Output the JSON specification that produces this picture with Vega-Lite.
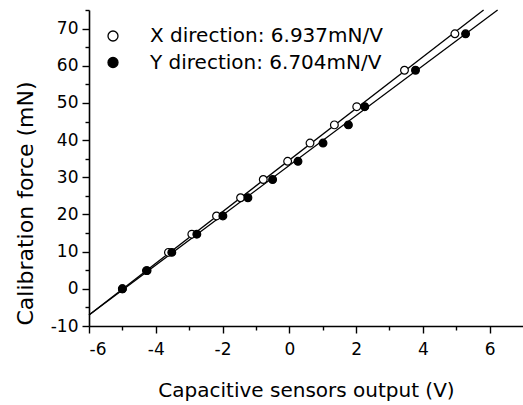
{
  "$schema": "https://vega.github.io/schema/vega-lite/v6.json",
  "width": 434,
  "height": 316,
  "autosize": {"type": "none"},
  "padding": {"left": 89, "top": 10, "right": 0, "bottom": 79},
  "background": "white",
  "config": {
    "view": {"stroke": null},
    "font": "DejaVu Sans",
    "axis": {
      "domainColor": "black",
      "domainWidth": 1.6,
      "tickColor": "black",
      "tickWidth": 1.4,
      "labelColor": "black",
      "titleColor": "black",
      "labelFont": "DejaVu Sans",
      "titleFont": "DejaVu Sans",
      "labelFontSize": 17,
      "titleFontSize": 20,
      "titleFontWeight": "normal",
      "grid": false
    }
  },
  "datasets": {
    "points": [
      {"series": "X direction: 6.937mN/V", "v": -5.0, "f": 0.0},
      {"series": "X direction: 6.937mN/V", "v": -4.28, "f": 4.9},
      {"series": "X direction: 6.937mN/V", "v": -3.62, "f": 9.8},
      {"series": "X direction: 6.937mN/V", "v": -2.92, "f": 14.7},
      {"series": "X direction: 6.937mN/V", "v": -2.18, "f": 19.6},
      {"series": "X direction: 6.937mN/V", "v": -1.46, "f": 24.5},
      {"series": "X direction: 6.937mN/V", "v": -0.78, "f": 29.4},
      {"series": "X direction: 6.937mN/V", "v": -0.05, "f": 34.3},
      {"series": "X direction: 6.937mN/V", "v": 0.62, "f": 39.2},
      {"series": "X direction: 6.937mN/V", "v": 1.35, "f": 44.1},
      {"series": "X direction: 6.937mN/V", "v": 2.02, "f": 49.0},
      {"series": "X direction: 6.937mN/V", "v": 3.45, "f": 58.8},
      {"series": "X direction: 6.937mN/V", "v": 4.96, "f": 68.6},
      {"series": "Y direction: 6.704mN/V", "v": -5.0, "f": 0.0},
      {"series": "Y direction: 6.704mN/V", "v": -4.26, "f": 4.9},
      {"series": "Y direction: 6.704mN/V", "v": -3.52, "f": 9.8},
      {"series": "Y direction: 6.704mN/V", "v": -2.77, "f": 14.7},
      {"series": "Y direction: 6.704mN/V", "v": -1.99, "f": 19.6},
      {"series": "Y direction: 6.704mN/V", "v": -1.24, "f": 24.5},
      {"series": "Y direction: 6.704mN/V", "v": -0.5, "f": 29.4},
      {"series": "Y direction: 6.704mN/V", "v": 0.26, "f": 34.3},
      {"series": "Y direction: 6.704mN/V", "v": 1.01, "f": 39.2},
      {"series": "Y direction: 6.704mN/V", "v": 1.77, "f": 44.1},
      {"series": "Y direction: 6.704mN/V", "v": 2.26, "f": 49.0},
      {"series": "Y direction: 6.704mN/V", "v": 3.78, "f": 58.8},
      {"series": "Y direction: 6.704mN/V", "v": 5.28, "f": 68.6}
    ],
    "fits": [
      {"series": "X direction: 6.937mN/V", "v": -6.0, "f": -7.02},
      {"series": "X direction: 6.937mN/V", "v": 5.82, "f": 75.0},
      {"series": "Y direction: 6.704mN/V", "v": -6.0, "f": -7.02},
      {"series": "Y direction: 6.704mN/V", "v": 6.24, "f": 75.0}
    ]
  },
  "encoding": {
    "x": {
      "field": "v",
      "type": "quantitative",
      "scale": {"domain": [-6, 7], "nice": false, "zero": false},
      "axis": {
        "title": "Capacitive sensors output (V)",
        "values": [-6, -5, -4, -3, -2, -1, 0, 1, 2, 3, 4, 5, 6],
        "labelExpr": "datum.value % 2 == 0 ? '' + datum.value : ''",
        "tickSize": {"condition": {"test": "datum.value % 2 == 0", "value": 7}, "value": 4},
        "labelPadding": 8,
        "titleBaseline": "alphabetic",
        "titleY": 70
      }
    },
    "y": {
      "field": "f",
      "type": "quantitative",
      "scale": {"domain": [-10, 75], "nice": false, "zero": false},
      "axis": {
        "title": "Calibration force (mN)",
        "titleFontSize": 22,
        "values": [-10, -5, 0, 5, 10, 15, 20, 25, 30, 35, 40, 45, 50, 55, 60, 65, 70, 75],
        "labelExpr": "datum.value % 10 == 0 ? '' + datum.value : ''",
        "tickSize": {"condition": {"test": "datum.value % 10 == 0", "value": 7}, "value": 4},
        "labelPadding": 4,
        "titleX": -52,
        "titleY": 193,
        "titleBaseline": "bottom"
      }
    }
  },
  "layer": [
    {
      "data": {"name": "fits"},
      "mark": {"type": "line", "color": "black", "strokeWidth": 1.3},
      "encoding": {"detail": {"field": "series"}}
    },
    {
      "data": {"name": "points"},
      "mark": {"type": "point", "shape": "circle", "filled": true, "size": 60, "stroke": "black", "strokeWidth": 1.2, "opacity": 1},
      "encoding": {
        "fill": {
          "field": "series",
          "type": "nominal",
          "scale": {"domain": ["X direction: 6.937mN/V", "Y direction: 6.704mN/V"], "range": ["white", "black"]},
          "legend": {
            "title": null,
            "orient": "none",
            "legendX": 14,
            "legendY": 16,
            "padding": 0,
            "symbolType": "circle",
            "symbolSize": 100,
            "symbolStrokeColor": "black",
            "symbolStrokeWidth": 1.3,
            "labelFont": "DejaVu Sans",
            "labelFontSize": 20,
            "labelColor": "black",
            "labelOffset": 27,
            "rowPadding": 6.5,
            "labelLimit": 400
          }
        }
      }
    }
  ]
}
